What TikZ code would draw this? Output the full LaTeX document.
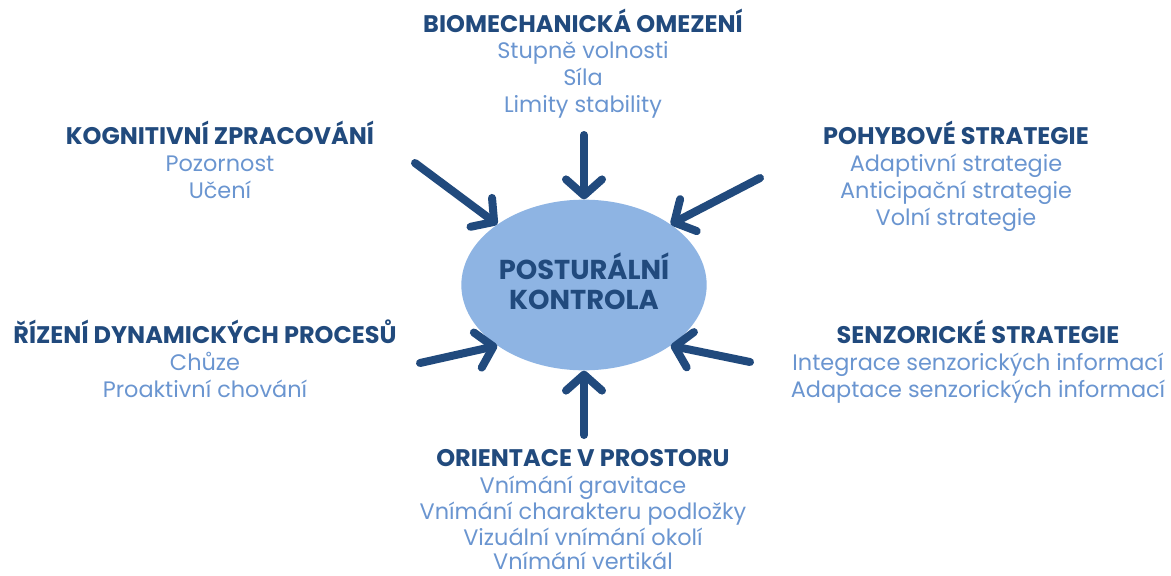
\documentclass[tikz,border=0pt]{standalone}
\usepackage{fontspec}
\setmainfont{Poppins}
\usetikzlibrary{shapes.geometric,arrows.meta}
\definecolor{navy}{HTML}{214A7D}
\definecolor{skyblue}{HTML}{6A95D0}
\definecolor{blob}{HTML}{8EB4E3}
\begin{document}
\begin{tikzpicture}[x=0.75pt,y=-0.75pt,
        head/.style={anchor=base,inner sep=0pt,text=navy,font=\fontsize{18}{20}\selectfont\bfseries},
        item/.style={anchor=base,inner sep=0pt,text=skyblue,font=\fontsize{16.8}{20}\selectfont},
        push/.style={navy,line width=6pt,line cap=round,-{Straight Barb[length=12pt,width=27pt,round]}}]
        \useasboundingbox (0,0) rectangle (1171,575);
        \node (core) at (584,285) [ellipse,fill=blob,minimum width=184pt,minimum height=128pt,inner sep=0pt] {};
        \node (coreA) at (584,279) [head,font=\fontsize{20.5}{22}\selectfont\bfseries] {POSTURÁLNÍ};
        \node (coreB) at (584,309) [head,font=\fontsize{20.5}{22}\selectfont\bfseries] {KONTROLA};
        \node (bioH) at (583,32) [head] {BIOMECHANICKÁ OMEZENÍ};
        \node (bio1) at (583,58) [item] {Stupně volnosti};  \node (bio2) at (583,85) [item] {Síla};  \node (bio3) at (583,112) [item] {Limity stability};
        \node (kogH) at (220,144) [head] {KOGNITIVNÍ ZPRACOVÁNÍ};
        \node (kog1) at (220,171) [item] {Pozornost};  \node (kog2) at (220,198) [item] {Učení};
        \node (pohH) at (956,144) [head] {POHYBOVÉ STRATEGIE};
        \node (poh1) at (956,171) [item] {Adaptivní strategie};  \node (poh2) at (956,198) [item] {Anticipační strategie};  \node (poh3) at (956,225) [item] {Volní strategie};
        \node (rizH) at (205,343) [head] {ŘÍZENÍ DYNAMICKÝCH PROCESŮ};
        \node (riz1) at (205,370) [item] {Chůze};  \node (riz2) at (205,397) [item] {Proaktivní chování};
        \node (senH) at (978,343) [head] {SENZORICKÉ STRATEGIE};
        \node (sen1) at (978,370) [item] {Integrace senzorických informací};  \node (sen2) at (978,397) [item] {Adaptace senzorických informací};
        \node (oriH) at (583,466) [head] {ORIENTACE V PROSTORU};
        \node (ori1) at (583,493) [item] {Vnímání gravitace};  \node (ori2) at (583,519) [item] {Vnímání charakteru podložky};
        \node (ori3) at (583,545) [item] {Vizuální vnímání okolí};  \node (ori4) at (583,569) [item] {Vnímání vertikál};
        \coordinate (bioT) at (584,135);  \coordinate (kogT) at (415,163);  \coordinate (pohT) at (760,178);
        \coordinate (rizT) at (420,363);  \coordinate (senT) at (750,362);  \coordinate (oriT) at (584,435);
        \draw [push] (bioT) -- (core.90);  \draw [push] (kogT) -- (core.145);  \draw [push] (pohT) -- (core.35);
        \draw [push] (rizT) -- (core.215);  \draw [push] (senT) -- (core.325);  \draw [push] (oriT) -- (core.270);
    \end{tikzpicture}
\end{document}
